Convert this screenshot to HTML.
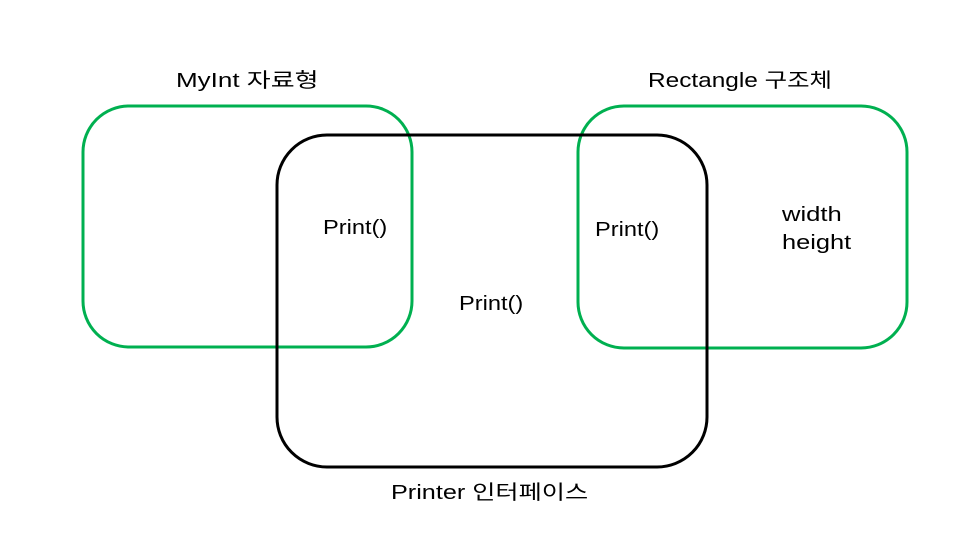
<!DOCTYPE html>
<html><head><meta charset="utf-8"><style>
body{margin:0;width:960px;height:552px;background:#fff;position:relative;overflow:hidden;font-family:"Liberation Sans","Noto Sans CJK KR",sans-serif;font-size:20px;color:#000}
.t{position:absolute;white-space:nowrap;line-height:1;transform-origin:left center}
</style></head><body>
<svg width="960" height="552" style="position:absolute;left:0;top:0">
<rect x="83" y="106" width="329" height="241" rx="46" fill="none" stroke="#00b050" stroke-width="3"/>
<rect x="578" y="106" width="329" height="242" rx="46" fill="none" stroke="#00b050" stroke-width="3"/>
<rect x="277" y="135" width="430" height="332" rx="50" fill="none" stroke="#000" stroke-width="3"/>
</svg>
<div class="t" style="left:176px;top:71px;transform:scaleX(1.30)">MyInt 자료형</div>
<div class="t" style="left:648px;top:71px;transform:scaleX(1.22)">Rectangle 구조체</div>
<div class="t" style="left:323px;top:218px;transform:scaleX(1.18)">Print()</div>
<div class="t" style="left:595px;top:220px;transform:scaleX(1.18)">Print()</div>
<div class="t" style="left:459px;top:294px;transform:scaleX(1.18)">Print()</div>
<div class="t" style="left:782px;top:205px;transform:scaleX(1.28)">width</div>
<div class="t" style="left:782px;top:233px;transform:scaleX(1.27)">height</div>
<div class="t" style="left:391px;top:483px;transform:scaleX(1.26)">Printer 인터페이스</div>
</body></html>
